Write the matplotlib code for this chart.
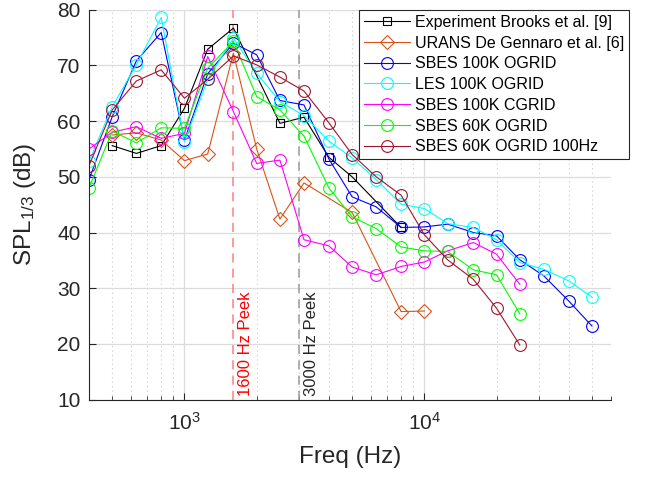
import matplotlib
matplotlib.use("Agg")
import matplotlib.pyplot as plt
import matplotlib.transforms as mtransforms
from matplotlib.ticker import LogLocator, FixedLocator, NullFormatter

plt.rcParams['font.family'] = ['Liberation Sans', 'DejaVu Sans']
plt.rcParams['mathtext.default'] = 'regular'

# ---- data ----
exp_f = [500, 630, 800, 1000, 1250, 1600, 2500, 3150, 4000, 5000, 8000]
exp_spl = [55.6, 54.2, 55.6, 62.3, 72.9, 76.7, 59.6, 60.7, 53.5, 50.0, 40.9]

urans_f = [500, 630, 800, 1000, 1250, 1600, 2000, 2500, 3150, 5000, 8000, 10000]
urans_spl = [57.5, 57.9, 56.6, 52.9, 54.1, 72.2, 55.0, 42.4, 48.9, 43.6, 25.8, 25.9]

f_full = [400, 500, 630, 800, 1000, 1250, 1600, 2000, 2500, 3150, 4000, 5000,
          6300, 8000, 10000, 12500, 16000, 20000, 25000, 31500, 40000, 50000]
sbes100_o = [49.5, 60.8, 70.8, 75.9, 56.6, 68.5, 74.0, 71.9, 63.7, 62.9, 53.2, 46.4,
             44.6, 40.9, 41.0, 41.5, 40.0, 39.4, 35.1, 32.2, 27.7, 23.2]
les100_o = [52.8, 62.6, 70.1, 78.6, 56.3, 67.5, 74.9, 68.6, 63.5, 61.0, 56.4, 53.4,
            49.5, 45.1, 44.3, 41.6, 40.9, 38.7, 34.6, 33.4, 31.3, 28.4]

f_short = [400, 500, 630, 800, 1000, 1250, 1600, 2000, 2500, 3150, 4000, 5000,
           6300, 8000, 10000, 12500, 16000, 20000, 25000]
sbes100_c = [55.0, 58.0, 59.0, 56.9, 57.8, 71.6, 61.7, 52.4, 53.0, 38.7, 37.6, 33.8,
             32.4, 33.9, 34.7, 36.7, 38.2, 36.1, 30.7]
sbes60_o = [48.0, 58.2, 56.1, 58.8, 58.7, 69.5, 74.3, 64.4, 62.0, 57.3, 48.0, 42.8,
            40.7, 37.4, 36.7, 36.6, 33.3, 32.4, 25.4]
sbes60_100 = [52.0, 62.0, 67.2, 69.2, 64.1, 67.5, 71.7, 70.1, 67.9, 65.4, 59.7, 54.0,
              50.0, 46.7, 39.6, 35.1, 31.6, 26.4, 19.8]

labels = ["Experiment Brooks et al. [9]", "URANS De Gennaro et al. [6]",
          "SBES 100K OGRID", "LES 100K OGRID", "SBES 100K CGRID",
          "SBES 60K OGRID", "SBES 60K OGRID 100Hz"]
peak_f = [1600, 3000]
peak_labels = ["1600 Hz Peek", "3000 Hz Peek"]

# ---- figure ----
fig = plt.figure(figsize=(6.48, 4.79), dpi=100)
ax = fig.add_axes([89/648, 1-399.6/479, (611-89)/648, (399.6-9.7)/479])

lw = 0.8
mew = 0.8
ms_c = 8.5
ax.plot(exp_f, exp_spl, color='k', lw=lw, marker='s', ms=6, mfc='none', mew=mew, label=labels[0])
ax.plot(urans_f, urans_spl, color='#D95319', lw=lw, marker='D', ms=7, mfc='none', mew=mew, label=labels[1])
ax.plot(f_full, sbes100_o, color='#0000FF', lw=lw, marker='o', ms=ms_c, mfc='none', mew=mew, label=labels[2])
ax.plot(f_full, les100_o, color='#00FFFF', lw=lw, marker='o', ms=ms_c, mfc='none', mew=mew, label=labels[3])
ax.plot(f_short, sbes100_c, color='#FF00FF', lw=lw, marker='o', ms=ms_c, mfc='none', mew=mew, label=labels[4])
ax.plot(f_short, sbes60_o, color='#00FF00', lw=lw, marker='o', ms=ms_c, mfc='none', mew=mew, label=labels[5])
ax.plot(f_short, sbes60_100, color='#A2142F', lw=lw, marker='o', ms=ms_c, mfc='none', mew=mew, label=labels[6])

# peak lines
ax.axvline(peak_f[0], color='#FF8080', lw=1.1, ls=(0, (6, 4)), zorder=1.5)
ax.axvline(peak_f[1], color='#9A9A9A', lw=1.1, ls=(0, (6, 4)), zorder=1.5)
off = mtransforms.offset_copy(ax.transData, fig=fig, x=5, y=0, units='dots')
ax.text(peak_f[0], 10.6, peak_labels[0], rotation=90, color='#FF0000', fontsize=12,
        ha='left', va='bottom', transform=off)
ax.text(peak_f[1], 10.6, peak_labels[1], rotation=90, color='#262626', fontsize=12,
        ha='left', va='bottom', transform=off)

ax.set_xscale('log')
ax.set_xlim(400, 60000)
ax.set_ylim(10, 80)
ax.set_yticks(range(10, 81, 10))
ax.xaxis.set_major_locator(FixedLocator([1000, 10000]))
ax.xaxis.set_minor_locator(LogLocator(base=10, subs=range(2, 10), numticks=20))
ax.xaxis.set_minor_formatter(NullFormatter())

ax.grid(True, which='major', color='#DCDCDC', lw=0.9, ls='-')
ax.grid(True, which='minor', axis='x', color='#C8C8C8', lw=0.8, ls=(0, (1, 3)))
ax.set_axisbelow(True)

for s in ['top', 'right']:
    ax.spines[s].set_visible(False)
for s in ['left', 'bottom']:
    ax.spines[s].set_color('#262626')
    ax.spines[s].set_linewidth(0.8)
ax.tick_params(which='both', direction='in', colors='#262626', labelsize=15)
ax.tick_params(which='major', length=5, width=0.8)
ax.tick_params(which='minor', length=3, width=0.6)
ax.tick_params(axis='x', pad=9)
ax.tick_params(axis='y', pad=6)

ax.set_xlabel('Freq (Hz)', fontsize=17.5, color='#262626', labelpad=9)
ax.set_ylabel('SPL$_{1/3}$ (dB)', fontsize=17.5, color='#262626')
ax.yaxis.set_label_coords(-0.098, 0.5)

leg = ax.legend(loc='upper right', bbox_to_anchor=(629/648, 1-10/479),
                bbox_transform=fig.transFigure, fontsize=11.5, frameon=True,
                fancybox=False, edgecolor='#262626', framealpha=1,
                handlelength=2.9, handletextpad=0.3, labelspacing=0.36,
                borderpad=0.3, borderaxespad=0)
leg.get_frame().set_linewidth(0.8)

fig.savefig('out.png', dpi=100)
